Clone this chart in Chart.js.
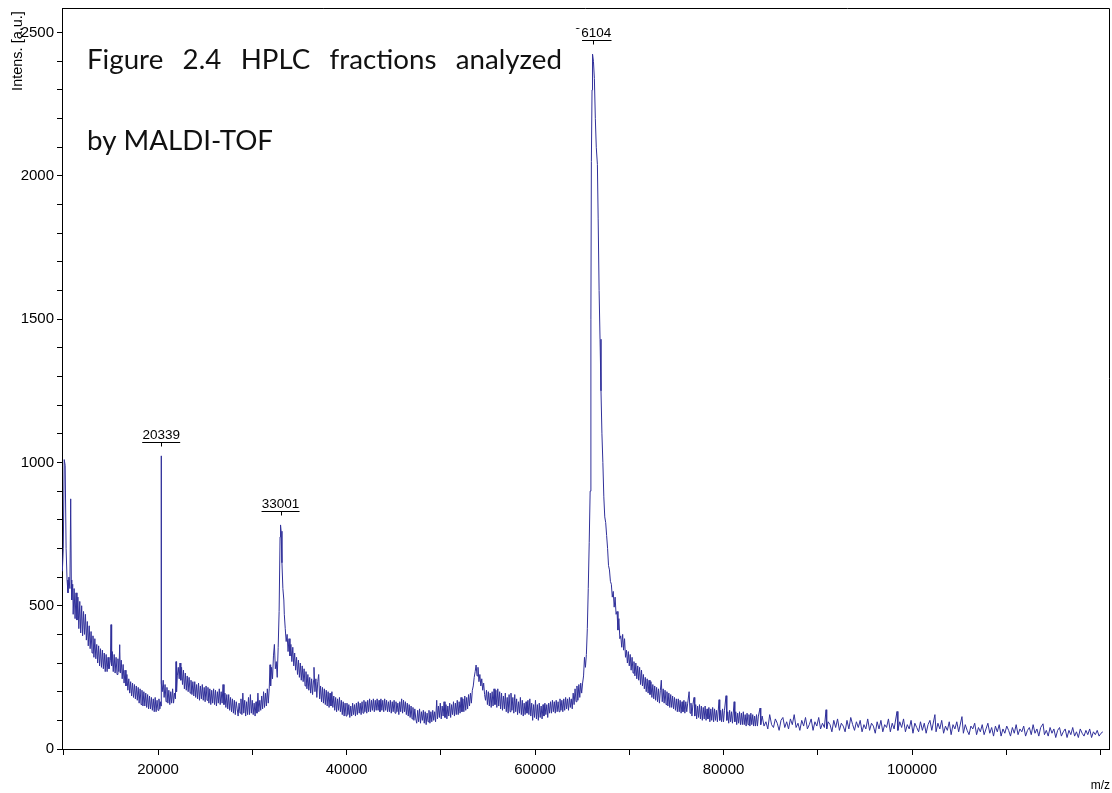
<!DOCTYPE html>
<html><head><meta charset="utf-8">
<script src="https://cdn.jsdelivr.net/npm/chart.js@4.4.0/dist/chart.umd.min.js"></script>
<style>html,body{margin:0;padding:0;background:#fff;}#wrap{width:1112px;height:793px;position:relative;}</style>
</head><body><div id="wrap"><canvas id="c" width="1112" height="793"></canvas></div>
<script>
// ---- axis ranges / ticks ----
const X_MIN = 9814, X_MAX = 120900;
const Y_MIN = 0, Y_MAX = 2586;
const xTickValues = [10000, 20000, 30000, 40000, 50000, 60000, 70000, 80000, 90000, 100000, 110000, 120000];
const xLabelValues = [20000, 40000, 60000, 80000, 100000];
const Y_STEP = 100;
const yLabelValues = [0, 500, 1000, 1500, 2000, 2500];

// ---- peak annotations ----
const peakMz = [20339, 33001, 66104];
const peakIntensity = [1023, 782, 2425];
const peakText = ['20339', '33001', '66104'];

// ---- spectrum, [m/z, intensity] ----
const lowMassRegion = [
[9850,620],[9950,700],[10050,1010],[10150,990],[10250,700],[10350,590],[10450,545],[10550,600],[10650,560],[10737,873],
[10800,590],[10850,520],[10950,575],[11000,470],[11100,560],[11200,455],[11300,545],[11400,450],[11500,530],[11600,420],
[11700,515],[11800,405],[11900,500],[12000,395],[12100,480],[12200,400],[12300,470],[12400,380],[12500,445],[12600,360],
[12700,430],[12800,350],[12900,410],[13000,335],[13100,395],[13200,320],[13300,385],[13400,315],[13500,365],[13600,300],
[13700,360],[13800,290],[13900,350],[14000,285],[14100,345],[14200,280],[14300,335],[14400,270],[14500,330],[14600,270],
[14700,320],[14800,280],[14950,310],[15013,434],[15080,290],[15150,340],[15250,270],[15350,330],[15450,265],[15550,320],
[15650,260],[15750,315],[15850,270],[15937,364],[16000,265],[16100,310],[16200,245],[16300,295],[16400,230],[16500,275],
[16600,220],[16700,260],[16800,205],[16900,245],[17000,195],[17100,235],[17200,185],[17300,230],[17400,180],[17500,225],
[17600,175],[17700,220],[17800,170],[17900,215],[18000,160],[18100,210],[18200,155],[18300,205],[18400,150],[18500,200],
[18600,150],[18700,195],[18800,145],[18900,190],[19000,140],[19100,185],[19200,140],[19300,180],[19400,135],[19500,175],
[19600,130],[19700,180],[19800,130],[19900,170],[20000,135],[20100,175],[20200,140],[20280,165],[20320,150]
];
const peak20339Region = [
[20339,1023],[20360,230],[20450,200],[20550,240],[20650,180],[20750,225],[20850,165],[20950,215],[21050,160],[21150,205],
[21250,155],[21350,200],[21450,160],[21550,210],[21650,160],[21750,195],[21850,175],[21910,305],[21970,200],[22050,255],
[22150,285],[22250,245],[22334,300],[22420,240],[22500,285],[22600,225],[22700,275],[22800,210],[22900,265],[23000,205],
[23100,255],[23200,200],[23300,250],[23400,195],[23500,240],[23600,190],[23700,235],[23800,185],[23900,235],[24000,180],
[24100,225],[24200,175],[24300,230],[24400,170],[24500,220],[24600,175],[24700,225],[24800,170],[24900,215],[25000,165],
[25100,220],[25200,170],[25300,215],[25400,160],[25500,210],[25600,155],[25700,205],[25800,160],[25900,210],[26000,155],
[26100,205],[26200,150],[26300,200],[26400,160],[26500,210],[26600,155],[26700,200],[26800,160],[26900,225],[27000,155],
[27100,195],[27200,145],[27300,190],[27400,140],[27500,190],[27600,135],[27700,180],[27800,130],[27900,175],[28000,125],
[28100,170],[28200,120],[28300,165],[28400,140],[28500,115],[28600,160],[28700,125],[28800,175],[28900,120],[29000,195],
[29100,125],[29200,170],[29300,115],[29400,165],[29500,120],[29600,180],[29700,120],[29800,190],[29900,125],[30000,170],
[30100,120],[30200,160],[30300,115],[30400,165],[30500,125],[30600,195],[30700,130],[30800,170],[30900,135],[31000,185],
[31100,140],[31200,200],[31300,145],[31400,195],[31500,150],[31600,210],[31700,160],[31800,210]
];
const peak33001Region = [
[31883,294],[31950,220],[32050,285],[32150,245],[32250,325],[32350,365],[32450,280],[32550,305],[32650,250],[32750,355],
[32850,480],[32950,740],[33001,782],[33060,760],[33150,650],[33250,560],[33350,520],[33400,470],[33500,420],[33600,375],
[33700,400],[33800,340],[33900,385],[34000,325],[34100,365],[34200,305],[34300,355],[34400,290],[34500,335],[34600,275],
[34700,320],[34800,260],[34900,310],[35000,250],[35100,300],[35200,240],[35300,290],[35400,235],[35500,280],[35600,220],
[35700,270],[35800,210],[35900,260],[36000,205],[36100,250],[36200,195],[36300,245],[36400,190],[36500,240],[36550,285],
[36650,200],[36750,245],[36850,180],[36950,235],[37050,260],[37150,175],[37250,220],[37350,165],[37450,215],[37550,160],
[37650,210],[37750,155],[37850,205],[37950,150],[38050,200],[38150,145],[38250,195],[38350,150],[38450,200],[38550,145],
[38650,185],[38750,135],[38850,180],[38950,130],[39050,175],[39150,135],[39250,180],[39350,130],[39450,170],[39550,120],
[39650,165],[39750,115],[39850,160],[39950,115],[40050,160],[40150,120],[40250,155],[40350,110],[40450,150],[40550,115],
[40650,160],[40750,120],[40850,155],[40950,115],[41050,160],[41150,120],[41250,165],[41350,125],[41450,160],[41550,120],
[41650,165],[41750,125],[41850,170],[41950,130],[42050,165],[42150,125],[42250,170],[42350,130],[42450,175],[42550,130],
[42650,170],[42750,135],[42850,175],[42950,130],[43050,170],[43150,135],[43250,175],[43350,135],[43450,170],[43550,130],
[43650,175],[43750,135],[43850,170],[43950,130],[44050,175],[44150,135],[44250,170],[44350,130],[44450,165],[44550,130],
[44650,170],[44750,125],[44850,165],[44950,130],[45050,170],[45150,125],[45250,165],[45350,130],[45450,160],[45550,120],
[45650,165]
];
const midRegion = [
[45750,130],[45850,175],[45950,125],[46050,170],[46150,130],[46250,165],[46350,120],[46450,160],[46550,115],[46650,155],
[46750,110],[46850,150],[46950,105],[47050,145],[47150,100],[47250,140],[47350,105],[47450,90],[47550,135],[47650,95],
[47750,140],[47850,90],[47950,130],[48050,100],[48150,135],[48250,90],[48350,130],[48450,85],[48550,125],[48650,95],
[48750,135],[48850,90],[48950,130],[49050,95],[49150,135],[49250,100],[49350,130],[49450,95],[49570,170],[49650,105],
[49750,150],[49850,110],[49950,160],[50050,105],[50150,150],[50250,115],[50350,165],[50450,110],[50550,155],[50650,105],
[50750,150],[50850,115],[50950,160],[51050,110],[51150,155],[51250,120],[51350,165],[51450,115],[51550,160],[51650,120],
[51750,170],[51850,120],[51950,165],[52050,125],[52150,180],[52250,130],[52350,175],[52450,130],[52550,185],[52650,135],
[52750,180],[52850,140],[52950,190],[53050,150],[53150,195],[53250,160],[53350,205],[53450,220],[53550,250],[53650,270],
[53750,293],[53850,255],[53950,285],[54050,235],[54150,260],[54250,220],[54350,245],[54450,205],[54550,230],[54650,190],
[54750,170],[54850,205],[54950,155],[55050,200],[55150,150],[55250,195],[55350,145],[55450,200],[55550,150],[55650,210],
[55750,155],[55850,205],[55950,145],[56050,210],[56150,150],[56250,200],[56350,140],[56450,195],[56550,135],[56650,185],
[56750,140],[56850,195],[56950,130],[57050,180],[57150,125],[57250,190],[57350,130],[57450,195],[57550,135],[57650,180],
[57750,125],[57850,190],[57950,130],[58050,175],[58150,120],[58250,165],[58350,125],[58450,180],[58550,120],[58650,170],
[58750,115],[58850,160],[58950,120],[59050,165],[59150,125],[59250,170],[59350,120],[59450,175],[59550,115],[59650,160],
[59750,100],[59850,155],[59950,110],[60050,170],[60150,105],[60250,155],[60350,100],[60450,160],[60550,110],[60650,150],
[60750,105],[60850,155],[60950,115],[61050,160],[61150,120],[61250,155],[61350,110],[61450,160],[61550,125],[61650,165],
[61750,125],[61850,170],[61950,130],[62050,165],[62150,125],[62250,170],[62350,130],[62450,165],[62550,130],[62650,175],
[62750,135],[62850,170],[62950,130],[63050,175],[63150,135],[63250,180],[63350,140],[63450,175],[63550,135],[63650,180],
[63750,145],[63850,175],[63950,140],[64050,195],[64150,155],[64250,210],[64350,165],[64450,220],[64550,170],[64650,225],
[64750,180],[64850,230],[64950,195]
];
const peak66104Region = [
[65050,230],[65150,255],[65250,320],[65350,285],[65450,330],[65550,420],[65650,560],[65750,720],[65850,900],[65930,1500],
[65980,2050],[66050,2300],[66104,2425],[66200,2400],[66300,2340],[66400,2200],[66500,2100],[66620,2040],[66700,1850],[66800,1600],
[66900,1430],[67000,1250],[67100,1100],[67200,1000],[67300,880],[67400,810],[67500,790],[67600,745],[67700,700],[67800,640],
[67900,625],[68000,585],[68100,575],[68200,530],[68300,550],[68400,495],[68500,530],[68600,470],[68700,480],[68800,415],
[68900,455],[69000,385],[69100,395],[69200,355],[69300,400],[69400,345],[69500,385],[69600,320],[69700,345],[69800,300],
[69900,340],[70000,290],[70100,330],[70200,275],[70300,320],[70400,265],[70500,305],[70600,255],[70700,300],[70800,245],
[70900,290],[71000,240],[71100,285],[71200,225],[71300,275],[71400,220],[71500,260],[71600,210],[71700,250],[71800,200],
[71900,245],[72000,195],[72100,240],[72200,190],[72300,235],[72400,180],[72500,225],[72600,175],[72700,220],[72800,170],
[72900,215],[73000,165],[73100,210],[73200,160],[73300,205],[73400,240],[73500,165],[73600,210],[73700,160],[73800,205],
[73900,155],[74000,200],[74100,150],[74200,195],[74300,145],[74400,190]
];
const tailRegion = [
[74500,145],[74600,185],[74700,140],[74800,180],[74900,135],[75000,175],[75100,130],[75200,175],[75300,130],[75400,170],
[75500,125],[75600,165],[75700,130],[75800,170],[75900,125],[76000,165],[76100,130],[76200,160],[76350,200],[76450,125],
[76550,160],[76650,115],[76750,155],[76880,180],[76950,115],[77050,155],[77150,105],[77250,150],[77350,110],[77450,155],
[77550,105],[77650,150],[77750,100],[77850,145],[77950,105],[78050,150],[78150,100],[78250,140],[78350,105],[78450,145],
[78550,95],[78650,140],[78750,100],[78850,145],[78950,95],[79050,140],[79150,100],[79250,135],[79350,95],[79530,172],
[79600,100],[79700,135],[79800,95],[79900,140],[80000,95],[80100,135],[80270,186],[80350,100],[80450,130],[80550,90],
[80650,135],[80750,95],[80850,130],[80950,90],[81130,165],[81200,95],[81300,130],[81400,85],[81500,125],[81600,90],
[81700,130],[81800,85],[81900,125],[82000,85],[82100,130],[82200,85],[82300,120],[82400,80],[82500,125],[82600,85],
[82700,120],[82800,80],[82900,125],[83000,85],[83100,120],[83200,80],[83300,115],[83400,80],[83500,120],[83600,80],
[83700,115],[83880,143],[83950,85],[84100,115],[84300,80],[84500,95],[84700,70],[84900,120],[85100,85],[85300,75],
[85500,105],[85700,90],[85900,65],[86100,100],[86300,110],[86500,75],[86700,95],[86900,70],[87100,105],[87300,85],
[87500,120],[87700,75],[87900,90],[88100,65],[88300,100],[88500,80],[88700,110],[88900,70],[89100,85],[89300,105],
[89500,65],[89700,95],[89900,80],[90100,110],[90300,70],[90500,90],[90700,75],[90880,137],[90950,70],[91100,95],
[91300,85],[91500,60],[91700,100],[91900,75],[92100,105],[92300,65],[92500,90],[92700,80],[92900,60],[93100,100],
[93300,70],[93500,110],[93700,85],[93900,65],[94100,95],[94300,75],[94500,100],[94700,60],[94900,85],[95100,70],
[95300,105],[95500,65],[95700,90],[95900,80],[96100,55],[96300,95],[96500,70],[96700,100],[96900,60],[97100,85],
[97300,75],[97500,105],[97700,60],[97900,90],[98100,70],[98410,131],[98500,65],[98700,95],[98900,75],[99100,105],
[99300,60],[99500,85],[99700,70],[99900,100],[100100,55],[100300,90],[100500,75],[100700,60],[100900,95],[101100,65],
[101300,90],[101500,55],[101700,85],[101900,100],[102100,65],[102430,120],[102550,60],[102750,90],[102950,70],[103150,100],
[103350,55],[103550,80],[103750,65],[103950,95],[104150,50],[104350,85],[104550,70],[104750,95],[104950,60],[105300,113],
[105450,55],[105650,85],[105850,65],[106050,50],[106250,80],[106450,70],[106650,90],[106850,50],[107050,75],[107250,60],
[107450,85],[107650,50],[107850,70],[108050,90],[108250,55],[108450,75],[108650,45],[108850,80],[109050,60],[109250,85],
[109450,45],[109650,70],[109850,55],[110050,80],[110250,65],[110450,45],[110650,75],[110850,55],[111050,85],[111250,50],
[111450,70],[111650,60],[111850,80],[112050,45],[112250,65],[112450,75],[112650,50],[112850,85],[113050,55],[113250,70],
[113450,45],[113650,75],[113900,88],[114050,50],[114250,65],[114450,45],[114650,75],[114850,55],[115050,70],[115250,40],
[115450,65],[115650,75],[115850,45],[116050,60],[116250,70],[116450,40],[116650,65],[116850,50],[117050,75],[117250,45],
[117450,60],[117650,40],[117850,70],[118050,55],[118250,45],[118450,65],[118650,50],[118850,70],[119050,40],[119250,60],
[119450,50],[119650,65],[119850,45],[120050,55],[120250,60]
];

const points = [].concat(lowMassRegion, peak20339Region, peak33001Region, midRegion, peak66104Region, tailRegion)
  .map(p => ({x: p[0], y: p[1]}));

const AXIS_FONT = '"Liberation Sans", Arial, sans-serif';
const TITLE_FONT = 'Lato, "Open Sans", sans-serif';
const LINE_COLOR = '#30309a';

const annotate = {
  id: 'annotate',
  afterDraw(chart) {
    const {ctx, chartArea: a, scales: {x, y}} = chart;
    ctx.save();
    ctx.strokeStyle = '#000'; ctx.lineWidth = 1;
    ctx.beginPath();
    ctx.moveTo(Math.round(a.left), Math.round(a.top) + 0.5);
    ctx.lineTo(Math.round(a.right) + 0.5, Math.round(a.top) + 0.5);
    ctx.lineTo(Math.round(a.right) + 0.5, Math.round(a.bottom));
    ctx.stroke();

    ctx.fillStyle = '#000';
    ctx.font = '13.5px ' + AXIS_FONT;
    ctx.textAlign = 'center'; ctx.textBaseline = 'alphabetic';
    peakMz.forEach((m, i) => {
      const px = x.getPixelForValue(m);
      const py = y.getPixelForValue(peakIntensity[i]);
      const uy = Math.round(py - 14) + 0.5;
      ctx.beginPath();
      ctx.moveTo(px - 19, uy); ctx.lineTo(px + 19, uy);
      ctx.moveTo(Math.round(px) + 0.5, uy); ctx.lineTo(Math.round(px) + 0.5, uy + 4);
      ctx.stroke();
      ctx.fillText(peakText[i], px, uy - 3.5);
    });

    // white caption box (covers part of the 66104 label, as in the original)
    ctx.fillStyle = '#fff';
    ctx.fillRect(64, 29, 518, 135);

    ctx.fillStyle = '#111';
    ctx.textAlign = 'left';
    let size = 26;
    ctx.font = size + 'px ' + TITLE_FONT;
    const w2 = ctx.measureText('by MALDI-TOF').width;
    size = size * 186 / w2;
    ctx.font = size.toFixed(2) + 'px ' + TITLE_FONT;
    const words = ['Figure', '2.4', 'HPLC', 'fractions', 'analyzed'];
    const ws = words.map(w => ctx.measureText(w).width);
    const total = ws.reduce((s, v) => s + v, 0);
    const gap = (562 - 87 - total) / (words.length - 1);
    let xx = 87;
    words.forEach((w, i) => { ctx.fillText(w, xx, 69); xx += ws[i] + gap; });
    ctx.fillText('by MALDI-TOF', 87, 150);

    ctx.fillStyle = '#000';
    ctx.font = '14.5px ' + AXIS_FONT;
    ctx.save();
    ctx.translate(18, 51);
    ctx.rotate(-Math.PI / 2);
    ctx.textAlign = 'center'; ctx.textBaseline = 'middle';
    ctx.fillText('Intens. [a.u.]', 0, 0);
    ctx.restore();
    ctx.textAlign = 'right'; ctx.textBaseline = 'middle';
    ctx.font = '12px ' + AXIS_FONT;
    ctx.fillText('m/z', 1110, 786);
    ctx.restore();
  }
};

new Chart(document.getElementById('c'), {
  type: 'line',
  data: { datasets: [{ data: points, borderColor: LINE_COLOR, borderWidth: 1, pointRadius: 0, fill: false, tension: 0 }] },
  options: {
    responsive: false, animation: false, events: [],
    layout: { padding: { top: 8, right: 3, left: 0, bottom: 0 } },
    plugins: { legend: { display: false }, tooltip: { enabled: false }, title: { display: false } },
    scales: {
      x: {
        type: 'linear', min: X_MIN, max: X_MAX,
        afterBuildTicks(s) { s.ticks = xTickValues.map(v => ({ value: v })); },
        afterFit(s) { s.height = 44; s.paddingLeft = 0; s.paddingRight = 0; },
        border: { display: true, color: '#000', width: 1 },
        grid: { drawOnChartArea: false, drawTicks: true, tickLength: 6, color: '#000', lineWidth: 1 },
        ticks: { autoSkip: false, maxRotation: 0, minRotation: 0, padding: 6, color: '#000',
                 font: { family: AXIS_FONT, size: 15 },
                 callback: v => (xLabelValues.includes(v) ? String(v) : '') }
      },
      y: {
        type: 'linear', min: Y_MIN, max: Y_MAX,
        afterFit(s) { s.width = 62; s.paddingTop = 0; s.paddingBottom = 0; },
        border: { display: true, color: '#000', width: 1 },
        grid: { drawOnChartArea: false, drawTicks: true, tickLength: 5, color: '#000', lineWidth: 1 },
        ticks: { stepSize: Y_STEP, includeBounds: false, autoSkip: false, padding: 3, color: '#000',
                 font: { family: AXIS_FONT, size: 15 },
                 callback: v => (yLabelValues.includes(v) ? String(v) : '') }
      }
    }
  },
  plugins: [annotate]
});
</script>
</body></html>
